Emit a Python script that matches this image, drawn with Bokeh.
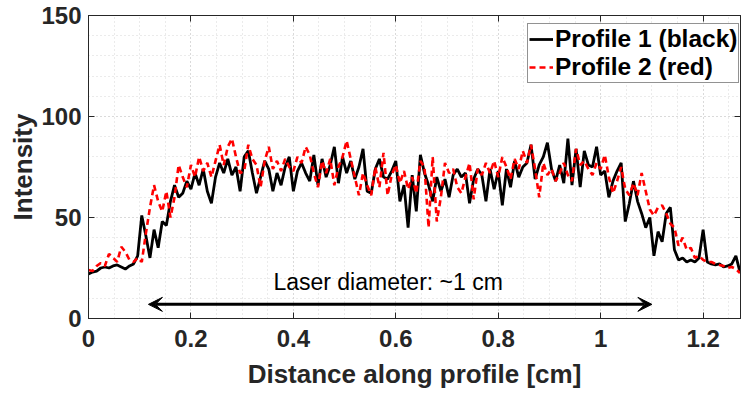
from bokeh.plotting import figure
from bokeh.models import (LinearAxis, FixedTicker, Range1d, Arrow, VeeHead, Label,
                          Legend, LegendItem, CustomJSTickFormatter)
from bokeh.embed import file_html
from bokeh.resources import INLINE

# ---------------- data ----------------
step_cm = 0.008
profile1_black = [
    22, 23, 23.5, 25, 25.5, 25, 26, 26.5, 25.5, 24.5, 26, 27, 31,
    51, 41, 30, 44, 35, 48, 46, 58, 66, 60, 62, 68, 64,
    72, 66, 74, 63, 57, 70, 77, 72, 79, 71, 75, 63, 80, 83,
    72, 62, 70, 78, 74, 63, 72, 66, 75, 80, 63, 73, 77, 72,
    68, 81, 66, 79, 70, 76, 85, 67, 80, 72, 78, 69, 75, 84,
    63, 62, 74, 79, 70, 69, 73, 78, 58, 66, 45, 71, 53, 81,
    72, 66, 58, 70, 63, 69, 60, 71, 74, 70, 72, 57, 69, 74,
    71, 58, 74, 64, 73, 56, 74, 65, 78, 70, 75, 77, 86, 69,
    76, 80, 87, 74, 68, 76, 67, 89, 66, 84, 65, 83, 76, 75,
    85, 71, 73, 60, 68, 73, 77, 48, 57, 68, 58, 52, 45, 50,
    31, 43, 38, 52, 55, 34, 29, 30, 28, 29, 28, 30, 44, 28,
    27, 26.5, 27, 25.5, 26, 27, 31, 23,
]
profile2_red = [
    24, 23.5, 26, 27.5, 26, 32, 30, 28, 35.5, 33, 29, 28, 30,
    28, 42, 55, 66, 58, 53, 63, 50, 60, 76, 70, 65, 76,
    70, 80, 73, 77, 70, 78, 86, 76, 85, 89, 80, 72, 73, 86,
    79, 76, 65, 78, 85, 74, 78, 73, 79, 75, 73, 80, 77, 85,
    81, 72, 65, 78, 72, 79, 66, 75, 80, 88, 79, 70, 61, 72,
    66, 61, 75, 65, 82, 61, 71, 76, 67, 73, 64, 70, 62, 78,
    75, 45, 80, 48, 60, 77, 72, 74, 65, 62, 70, 77, 59, 74,
    71, 77, 72, 78, 70, 80, 75, 69, 79, 74, 83, 77, 86, 74,
    60, 77, 71, 74, 68, 72, 77, 71, 68, 84, 76, 78, 74, 71,
    77, 74, 81, 70, 62, 68, 75, 64, 61, 67, 61, 72, 63, 54,
    51, 55, 56, 52, 47, 45, 36, 40, 34, 35, 30, 31, 29, 28,
    28, 27, 26.5, 26, 25, 25.5, 24.5, 22.5,
]
distance_cm = [round(i * step_cm, 3) for i in range(len(profile1_black))]

series_labels = ["Profile 1 (black)", "Profile 2 (red)"]
x_ticks = [0, 0.2, 0.4, 0.6, 0.8, 1, 1.2]
x_minor = [round(0.05 * i, 2) for i in range(26)]
y_ticks = [0, 50, 100, 150]
y_minor = [10 * i for i in range(16)]
annotation_text = "Laser diameter: ~1 cm"
arrow_from_cm, arrow_to_cm, arrow_level = 0.117, 1.10, 7
text_x_cm, text_level = 0.585, 18

FONT = "Liberation Sans"
AX = "#262626"

p = figure(width=742, height=394, output_backend="svg", toolbar_location=None,
           x_range=Range1d(0, 1.273), y_range=Range1d(0, 150),
           min_border_left=88, min_border_right=2, min_border_top=15,
           min_border_bottom=76, background_fill_color="white",
           outline_line_color=AX, outline_line_width=1)

fmt = CustomJSTickFormatter(code="return String(Math.round(tick*10)/10)")
blank = CustomJSTickFormatter(code="return ''")

def style_axis(ax, ticks, minor, show_labels, standoff):
    ax.ticker = FixedTicker(ticks=ticks, minor_ticks=minor)
    ax.axis_line_color = AX
    ax.axis_line_width = 1
    ax.major_tick_line_color = AX
    ax.major_tick_in = 6
    ax.major_tick_out = 0
    ax.minor_tick_in = 0
    ax.minor_tick_out = 0
    ax.major_label_standoff = standoff
    ax.major_label_text_font = FONT
    ax.major_label_text_font_style = "bold"
    ax.major_label_text_color = AX
    if show_labels:
        ax.major_label_text_font_size = "24px"
    else:
        ax.major_label_text_font_size = "1px"
        ax.formatter = blank

xa = p.xaxis[0]
ya = p.yaxis[0]
style_axis(xa, x_ticks, x_minor, True, 11)
style_axis(ya, y_ticks, y_minor, True, 7)
xa.formatter = fmt
xa.axis_label = "Distance along profile [cm]"
ya.axis_label = "Intensity"
for ax in (xa, ya):
    ax.axis_label_text_font = FONT
    ax.axis_label_text_font_style = "bold"
    ax.axis_label_text_font_size = "26px"
    ax.axis_label_text_color = AX
xa.axis_label_standoff = 9
ya.axis_label_standoff = 0

top = LinearAxis()
right = LinearAxis()
style_axis(top, x_ticks, x_minor, False, 0)
style_axis(right, y_ticks, y_minor, False, 0)
p.add_layout(top, "above")
p.add_layout(right, "right")

for g, ticks, minor in ((p.xgrid[0], x_ticks, x_minor), (p.ygrid[0], y_ticks, y_minor)):
    g.ticker = FixedTicker(ticks=ticks, minor_ticks=minor)
    g.grid_line_color = "#c8c8c8"
    g.grid_line_dash = "1 3"
    g.grid_line_width = 1
    g.minor_grid_line_color = "#d6d6d6"
    g.minor_grid_line_dash = "1 3"
    g.minor_grid_line_width = 1

r1 = p.line(distance_cm, profile1_black, line_color="black", line_width=2.8)
r2 = p.line(distance_cm, profile2_red, line_color="#ff0000", line_width=2.6,
            line_dash="6 4")

legend = Legend(items=[LegendItem(label=series_labels[0], renderers=[r1]),
                       LegendItem(label=series_labels[1], renderers=[r2])],
                location=(439, 235), orientation="vertical",
                label_text_font=FONT, label_text_font_style="bold",
                label_text_font_size="24.5px", label_text_color="black",
                glyph_width=24, glyph_height=20, label_standoff=2,
                padding=1, spacing=0, margin=0,
                border_line_color=AX, border_line_width=1,
                background_fill_color="white", background_fill_alpha=1)
p.add_layout(legend)

p.add_layout(Arrow(x_start=arrow_from_cm, y_start=arrow_level,
                   x_end=arrow_to_cm, y_end=arrow_level,
                   line_width=3, line_color="black",
                   start=VeeHead(size=14, fill_color="black", line_color="black"),
                   end=VeeHead(size=14, fill_color="black", line_color="black")))
p.add_layout(Label(x=text_x_cm, y=text_level, text=annotation_text,
                   text_align="center", text_baseline="middle",
                   text_font=FONT, text_font_size="23px", text_color="black"))

open("out.html", "w").write(file_html(p, INLINE))
